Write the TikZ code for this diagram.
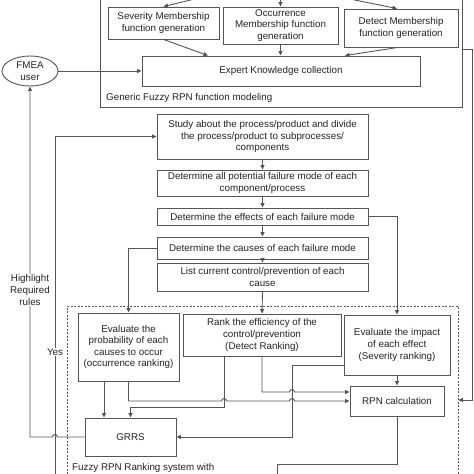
\documentclass[tikz,border=0pt]{standalone}
\usepackage{fontspec}
\setmainfont{Liberation Sans}
\usetikzlibrary{arrows.meta,shapes.geometric,calc}
\definecolor{ln}{RGB}{85,85,85}
\definecolor{tx}{RGB}{35,35,35}
\tikzset{
  box/.style={draw=ln,line width=0.9pt,fill=white,align=center,inner sep=1pt,text=tx,
    font=\fontsize{9.8}{11.6}\selectfont},
  arr/.style={draw=ln,line width=0.9pt,-{Triangle[length=4.5pt,width=4pt]}},
  ln/.style={draw=ln,line width=0.9pt},
  lbl/.style={text=tx,font=\fontsize{9.8}{11.6}\selectfont,align=center,inner sep=1pt},
}
\begin{document}
\begin{tikzpicture}[x=1pt,y=-1pt]
\useasboundingbox (0,0) rectangle (474,474);
\clip (0,0) rectangle (474,474);
\fill[white] (0,0) rectangle (474,474);
% containers
\node[draw=ln,line width=0.9pt,minimum width=362pt,minimum height=127pt,inner sep=0] (gen) at (281,43.5) {};
\node[draw=ln,line width=0.7pt,dash pattern=on 2pt off 1.5pt,minimum width=391pt,minimum height=214pt,inner sep=0] (fz) at (262.5,413) {};
\node[lbl,anchor=west] (genl) at (105,98) {Generic Fuzzy RPN function modeling};
\node[lbl,anchor=base west] (fzl) at (71,470.5) {Fuzzy RPN Ranking system with};
% top part
\node[box,minimum width=111pt,minimum height=32pt] (sev) at (163.5,23) {Severity Membership\\function generation};
\node[box,minimum width=115pt,minimum height=37pt] (occ) at (280.5,25.5) {Occurrence\\Membership function\\generation};
\node[box,minimum width=114pt,minimum height=38pt] (det) at (401,28) {Detect Membership\\function generation};
\node[box,minimum width=278pt,minimum height=30pt] (exp) at (281,71) {Expert Knowledge collection};
\node[box,ellipse,minimum width=56pt,minimum height=30pt,inner sep=0] (fmea) at (30,71) {FMEA\\user};
% chain
\node[box,minimum width=211pt,minimum height=45pt] (study) at (262.5,136.5) {Study about the process/product and divide\\the process/product to subprocesses/\\components};
\node[box,minimum width=211pt,minimum height=26pt] (fail) at (262.5,183) {Determine all potential failure mode of each\\component/process};
\node[box,minimum width=211pt,minimum height=17pt] (eff) at (262.5,216.5) {Determine the effects of each failure mode};
\node[box,minimum width=211pt,minimum height=22pt] (cau) at (262.5,248) {Determine the causes of each failure mode};
\node[box,minimum width=211pt,minimum height=28pt] (list) at (262.5,277) {List current control/prevention of each\\cause};
% ranking
\node[box,minimum width=101pt,minimum height=68pt] (prob) at (128.5,347) {Evaluate the\\probability of each\\causes to occur\\(occurrence ranking)};
\node[box,minimum width=158pt,minimum height=42pt] (rank) at (262,335) {Rank the efficiency of the\\control/prevention\\(Detect Ranking)};
\node[box,minimum width=106pt,minimum height=60pt] (sevr) at (397,345) {Evaluate the impact\\of each effect\\(Severity ranking)};
\node[box,minimum width=94pt,minimum height=30pt] (rpn) at (397,401) {RPN calculation};
\node[box,minimum width=91pt,minimum height=38pt] (grrs) at (130.5,437) {GRRS};
% free ends
\coordinate (s1) at (203,-3);
\coordinate (s2) at (280.5,-3);
\coordinate (s3) at (340,-3);
\coordinate (gout) at ([yshift=-5.5pt]gen.east);
\coordinate (din) at ([yshift=13pt]fz.east);
\coordinate (yesstart) at (55,480);
\coordinate (rpnout) at (277,480);
% top connectors
\draw[arr] (s1) -- (sev.north);
\draw[arr] (s2) -- (occ.north);
\draw[arr] (s3) -- ([xshift=-4pt]det.north);
\draw[arr] (sev.south) -- ([xshift=-73pt]exp.north);
\draw[arr] (occ.south) -- (occ.south |- exp.north);
\draw[arr] ([xshift=-3pt]det.south) -- ([xshift=64pt]exp.north);
\draw[arr] (fmea.east) -- (exp.west);
% chain connectors
\draw[arr] (study.south) -- (fail.north);
\draw[arr] (fail.south) -- (eff.north);
\draw[arr] (eff.south) -- (cau.north);
\draw[arr] (cau.south) -- (list.north);
\draw[arr] (list.south) -- (rank.north);
\draw[arr] (eff.east) -| (sevr.north);
\draw[arr] (cau.west) -| (prob.north);
% right loop
\draw[arr] (gout) -- (472.5,49) -- (472.5,400) -- (din);
% ranking connectors
\draw[arr] (sevr.south) -- (rpn.north);
\draw[arr] (prob.south) |- (221.5,401) arc[start angle=180,end angle=360,radius=2.5]
  -- (289.5,401) arc[start angle=180,end angle=360,radius=2.5] -- (rpn.west);
\draw[arr] (rank.south) |- (289.5,392) arc[start angle=180,end angle=360,radius=2.5] -- ([yshift=9pt]rpn.west);
\draw[arr] ([xshift=-38pt]rank.south) |- (130.5,407) -- (grrs.north);
\draw[arr] ([xshift=-24.5pt]prob.south) -- ([xshift=-26.5pt]grrs.north);
\draw[arr] ([yshift=-20pt]sevr.west) -| (292,437) -- (grrs.east);
\draw[ln] (rpn.south) |- (277,464) -- (rpnout);
% feedback loops
\draw[arr] (grrs.west) -- (57.5,437) arc[start angle=0,end angle=-180,radius=2.5] -- (30,437) -- (fmea.south);
\draw[arr] (yesstart) |- (study.west);
\node[lbl,fill=white] (hl) at (30,290) {Highlight\\Required\\rules};
\node[lbl,fill=white,inner sep=0.5pt] (yes) at (55,352) {Yes};
\end{tikzpicture}
\end{document}
